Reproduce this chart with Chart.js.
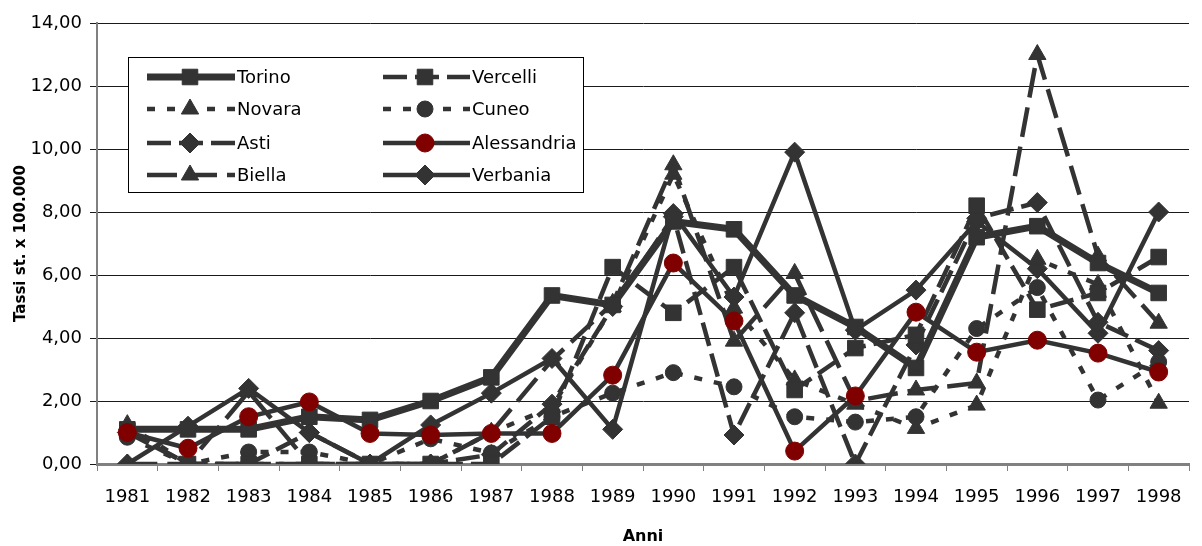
<!DOCTYPE html>
<html>
<head>
<meta charset="utf-8">
<script src="https://cdn.jsdelivr.net/npm/chart.js@4/dist/chart.umd.min.js"></script>
<style>
  html, body { margin: 0; padding: 0; background: #fff; }
  #wrap { width: 1202px; height: 546px; }
</style>
</head>
<body>
<div id="wrap"><canvas id="chart" width="1202" height="546"></canvas></div>
<script>
// Years and rates (tassi st. x 100.000)
const years = ['1981', '1982', '1983', '1984', '1985', '1986', '1987', '1988', '1989',
               '1990', '1991', '1992', '1993', '1994', '1995', '1996', '1997', '1998'];

const torino      = [1.1, 1.1, 1.1, 1.5, 1.4, 2.0, 2.75, 5.35, 5.05, 7.7, 7.45, 5.35, 4.35, 3.05, 7.2, 7.55, 6.38, 5.43];
const vercelli    = [1.05, 0, 0, 0, 0, 0, 0, 1.5, 6.25, 4.8, 6.25, 2.35, 3.68, 4.1, 8.2, 4.9, 5.43, 6.57];
const novara      = [1.25, 0, 0, 0, 0, 0, 1.0, 1.8, 5.0, 9.2, 4.95, 2.67, 1.9, 1.13, 1.87, 6.5, 5.7, 1.93];
const cuneo       = [0.85, 0, 0.38, 0.38, 0, 0.8, 0.35, 1.5, 2.25, 2.9, 2.45, 1.5, 1.33, 1.5, 4.3, 5.6, 2.03, 3.24];
const asti        = [1.0, 0, 0, 1.0, 0, 0, 0.3, 1.9, 5.0, 7.85, 0.92, 4.8, 0, 3.78, 7.8, 8.3, 4.5, 3.6];
const alessandria = [1.0, 0.5, 1.5, 1.97, 0.97, 0.92, 0.97, 0.97, 2.82, 6.38, 4.54, 0.41, 2.16, 4.82, 3.55, 3.93, 3.52, 2.92];
const biella      = [0, 0, 2.3, 0, 0, 0, 1.0, 3.3, 5.1, 9.5, 3.9, 6.05, 2.0, 2.35, 2.57, 13.0, 6.6, 4.47];
const verbania    = [0, 1.2, 2.4, 1.0, 0, 1.24, 2.25, 3.35, 1.1, 7.95, 5.3, 9.9, 4.25, 5.52, 7.7, 6.2, 4.15, 8.0];

const yTicks = [0, 2, 4, 6, 8, 10, 12, 14];

const DARK = '#333333';
const RED = '#800000';
const FONT = 'DejaVu Sans';

// Build one dataset
function series(label, data, opts) {
    return {
        label: label,
        data: data,
        borderColor: DARK,
        backgroundColor: opts.fill || DARK,
        borderWidth: opts.width || 4.5,
        borderDash: opts.dash || [],
        pointStyle: opts.style,
        pointRadius: opts.radius,
        pointBackgroundColor: opts.fill || DARK,
        pointBorderColor: opts.fill || DARK,
        pointBorderWidth: 1,
        tension: 0,
        fill: false,
        order: opts.order
    };
}

const datasets = [
    series('Torino', torino, { width: 7, style: 'rect', radius: 11, order: 2 }),
    series('Vercelli', vercelli, { dash: [24, 8], style: 'rect', radius: 11, order: 3 }),
    series('Novara', novara, { dash: [8, 12], style: 'triangle', radius: 10, order: 4 }),
    series('Cuneo', cuneo, { dash: [8, 12], style: 'circle', radius: 8, order: 5 }),
    series('Asti', asti, { dash: [24, 8], style: 'rectRot', radius: 10, order: 6 }),
    series('Alessandria', alessandria, { style: 'circle', radius: 9, fill: RED, order: 1 }),
    series('Biella', biella, { dash: [30, 10], style: 'triangle', radius: 10, order: 7 }),
    series('Verbania', verbania, { style: 'rectRot', radius: 10, order: 8 })
];

// Legend box inside the plot, two columns
const legendBox = {
    id: 'legendBox',
    afterDraw(chart) {
        const ctx = chart.ctx;
        const box = { x: 128.5, y: 57.5, w: 455, h: 135 };
        const rows = [77, 109, 143, 175];
        const cols = [
            { x1: 147, x2: 235, mx: 190, tx: 237 },
            { x1: 383, x2: 470, mx: 425, tx: 472 }
        ];
        ctx.save();
        ctx.fillStyle = '#fff';
        ctx.fillRect(box.x, box.y, box.w, box.h);
        ctx.strokeStyle = '#000';
        ctx.lineWidth = 1;
        ctx.setLineDash([]);
        ctx.strokeRect(box.x, box.y, box.w, box.h);

        chart.data.datasets.forEach((ds, i) => {
            const col = cols[i % 2];
            const y = rows[Math.floor(i / 2)];
            ctx.strokeStyle = ds.borderColor;
            ctx.lineWidth = ds.borderWidth;
            ctx.setLineDash(ds.borderDash);
            ctx.beginPath();
            ctx.moveTo(col.x1, y);
            ctx.lineTo(col.x2, y);
            ctx.stroke();

            ctx.setLineDash([]);
            ctx.fillStyle = ds.pointBackgroundColor;
            ctx.strokeStyle = ds.pointBorderColor;
            ctx.lineWidth = 1;
            Chart.helpers.drawPoint(ctx, {
                pointStyle: ds.pointStyle,
                radius: ds.pointRadius,
                borderWidth: 1,
                rotation: 0
            }, col.mx, y);

            ctx.fillStyle = '#000';
            ctx.font = '18px "' + FONT + '"';
            ctx.textBaseline = 'middle';
            ctx.textAlign = 'left';
            ctx.fillText(ds.label, col.tx, y + 1);
        });
        ctx.restore();
    }
};

new Chart(document.getElementById('chart'), {
    type: 'line',
    data: { labels: years, datasets: datasets },
    options: {
        responsive: false,
        animation: false,
        layout: { padding: { top: 23, right: 13, left: 0, bottom: 0 } },
        plugins: {
            legend: { display: false },
            tooltip: { enabled: false }
        },
        scales: {
            x: {
                offset: true,
                grid: {
                    offset: true,
                    drawOnChartArea: false,
                    tickLength: 7,
                    color: '#808080'
                },
                border: { color: '#808080', width: 3 },
                ticks: {
                    color: '#000',
                    font: { family: FONT, size: 18 },
                    padding: 16,
                    maxRotation: 0,
                    autoSkip: false
                },
                title: {
                    display: true,
                    text: 'Anni',
                    color: '#000',
                    font: { family: FONT, size: 16, weight: 'bold' },
                    padding: { top: 0, bottom: 0 }
                },
                afterFit(scale) { scale.height = 82; }
            },
            y: {
                min: 0,
                max: 14,
                afterBuildTicks(scale) {
                    scale.ticks = yTicks.map(v => ({ value: v }));
                },
                ticks: {
                    color: '#000',
                    font: { family: FONT, size: 18 },
                    padding: 8,
                    callback: v => v.toFixed(2).replace('.', ',')
                },
                grid: { color: '#1a1a1a', lineWidth: 1, tickLength: 7 },
                border: { color: '#808080', width: 2 },
                title: {
                    display: true,
                    text: 'Tassi st. x 100.000',
                    color: '#000',
                    font: { family: FONT, size: 15, weight: 'bold' },
                    padding: { top: 12, bottom: 0 }
                },
                afterFit(scale) { scale.width = 97; }
            }
        }
    },
    plugins: [legendBox]
});
</script>
</body>
</html>
